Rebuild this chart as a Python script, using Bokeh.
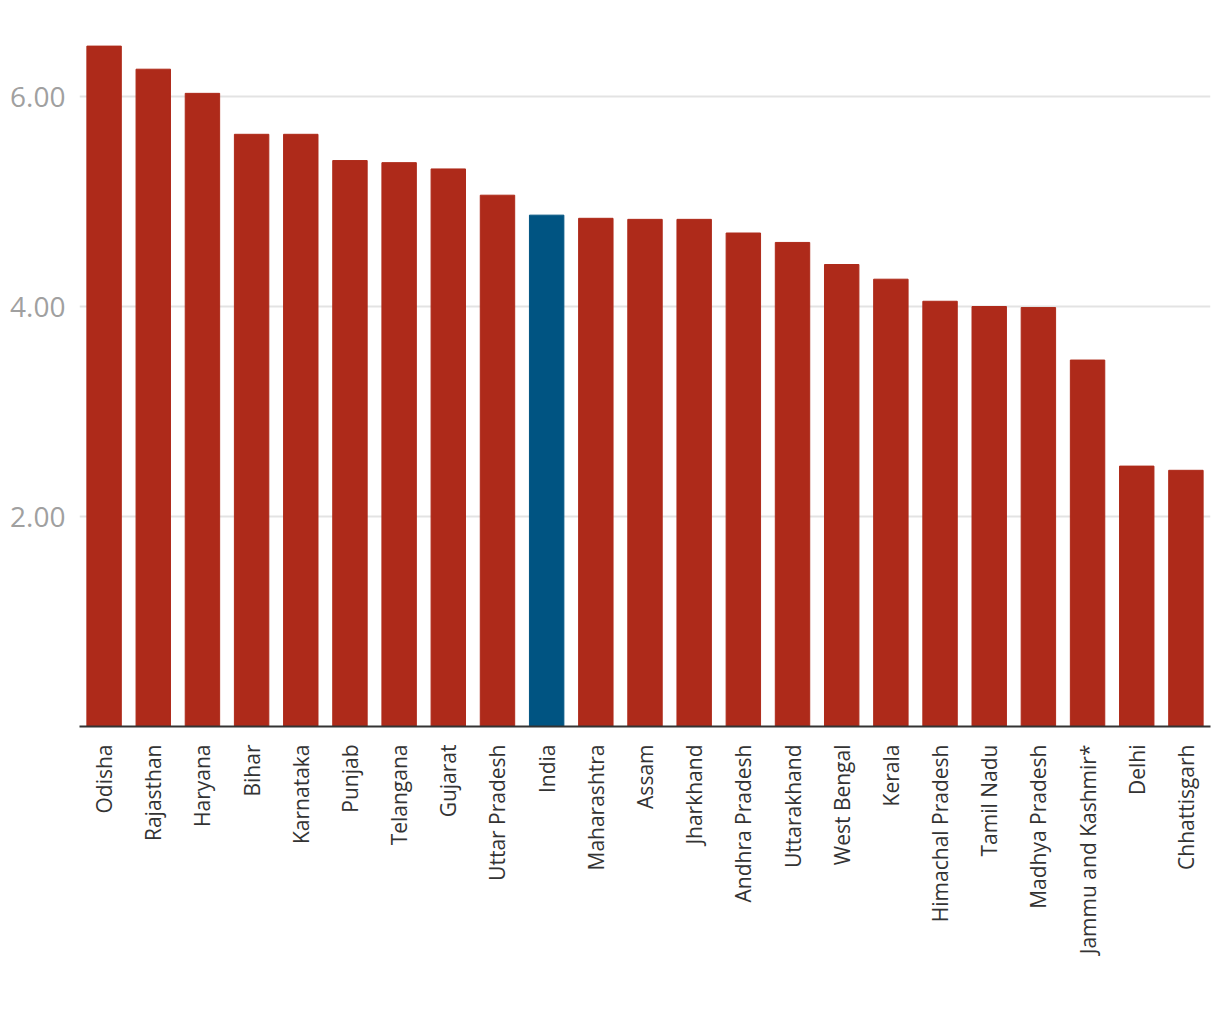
import math
from bokeh.plotting import figure
from bokeh.models import ColumnDataSource, FactorRange, Range1d, FixedTicker
from bokeh.embed import file_html
from bokeh.resources import INLINE

states = ["Odisha", "Rajasthan", "Haryana", "Bihar", "Karnataka", "Punjab", "Telangana",
          "Gujarat", "Uttar Pradesh", "India", "Maharashtra", "Assam", "Jharkhand",
          "Andhra Pradesh", "Uttarakhand", "West Bengal", "Kerala", "Himachal Pradesh",
          "Tamil Nadu", "Madhya Pradesh", "Jammu and Kashmir*", "Delhi", "Chhattisgarh"]
values = [6.48, 6.26, 6.03, 5.64, 5.64, 5.39, 5.37, 5.31, 5.06, 4.87, 4.84, 4.83, 4.83,
          4.70, 4.61, 4.40, 4.26, 4.05, 4.00, 3.99, 3.49, 2.48, 2.44]
highlight = "India"
y_ticks = [2, 4, 6]
y_tick_labels = {2: "2.00", 4: "4.00", 6: "6.00"}

RED = "#AE2A1A"
BLUE = "#005482"
colors = [BLUE if s == highlight else RED for s in states]

source = ColumnDataSource(dict(state=states, value=values, color=colors))

p = figure(x_range=FactorRange(*states, range_padding=0),
           y_range=Range1d(0, 6.6),
           frame_width=1131, frame_height=693,
           min_border_left=79, min_border_top=33, min_border_right=2, min_border_bottom=10,
           output_backend="svg", toolbar_location=None)

p.vbar(x="state", top="value", width=0.70, color="color", source=source)

p.outline_line_color = None
p.background_fill_color = "white"
p.border_fill_color = "white"

# x axis
p.xaxis.major_label_orientation = math.pi / 2
p.xaxis.axis_line_color = "#333333"
p.xaxis.axis_line_width = 2
p.xaxis.major_tick_line_color = None
p.xaxis.minor_tick_line_color = None
p.xaxis.major_label_standoff = 12
p.xaxis.major_label_text_font = "Open Sans"
p.xaxis.major_label_text_font_size = "21px"
p.xaxis.major_label_text_color = "#333333"
p.xgrid.grid_line_color = None

# y axis
p.yaxis.ticker = FixedTicker(ticks=y_ticks)
p.yaxis.major_label_overrides = y_tick_labels
p.yaxis.axis_line_color = None
p.yaxis.major_tick_line_color = None
p.yaxis.minor_tick_line_color = None
p.yaxis.major_label_text_font = "Open Sans"
p.yaxis.major_label_text_font_size = "28px"
p.yaxis.major_label_text_color = "#A0A0A0"
p.yaxis.major_label_standoff = 8
p.ygrid.grid_line_color = "#E3E3E3"
p.ygrid.grid_line_width = 2

open("out.html", "w").write(file_html(p, INLINE))
